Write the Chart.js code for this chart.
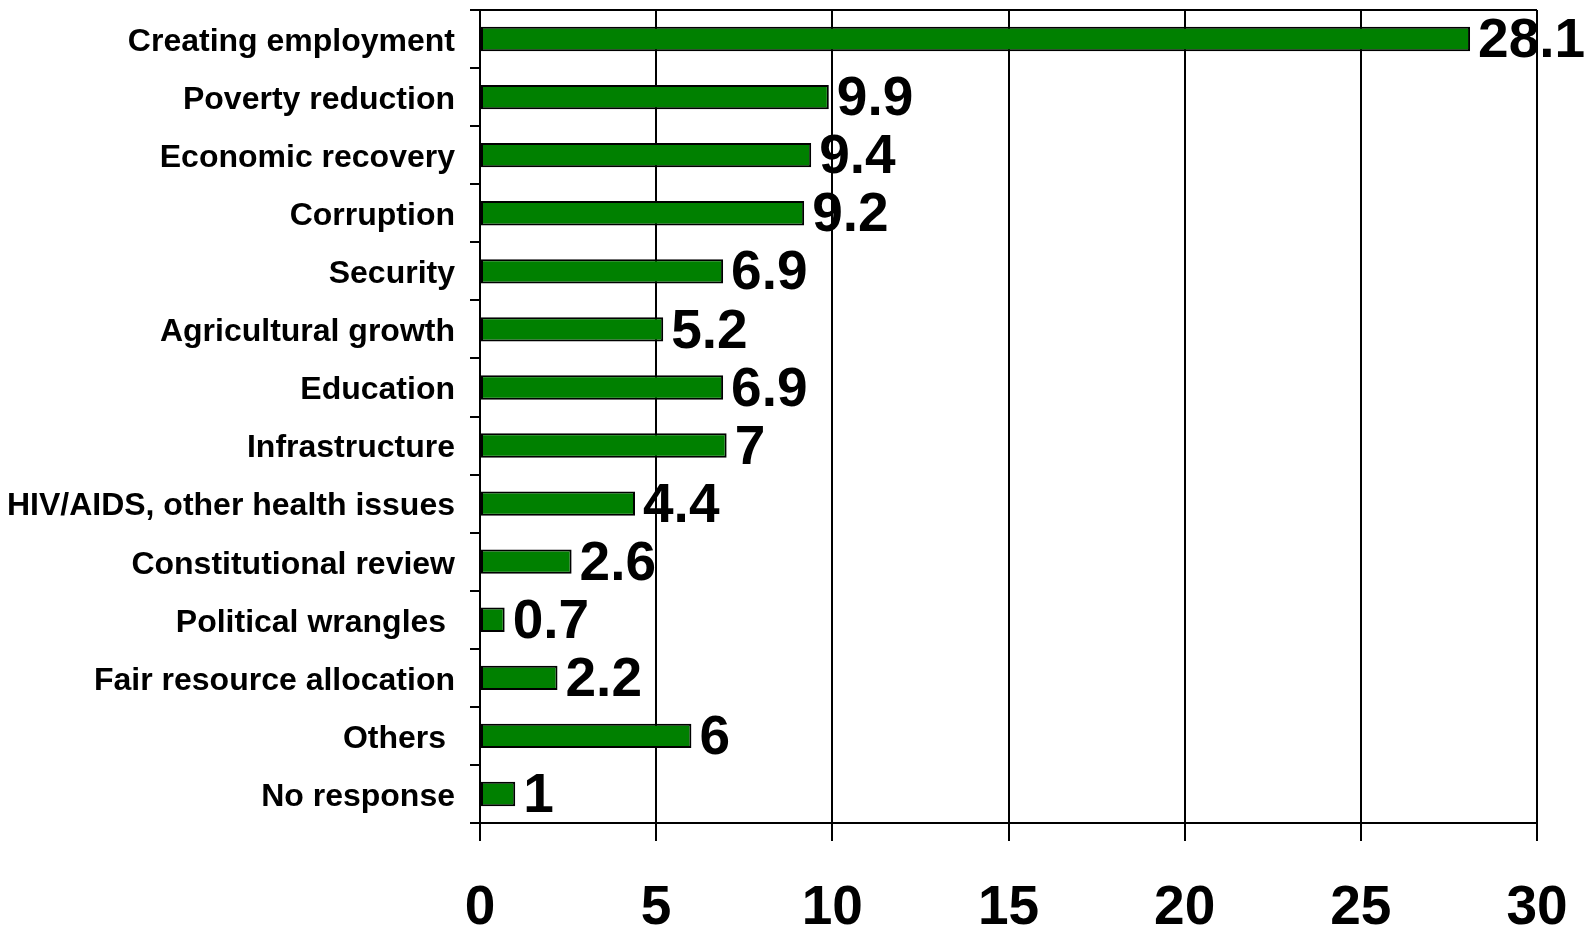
<!DOCTYPE html>
<html>
<head>
<meta charset="utf-8">
<script src="https://cdn.jsdelivr.net/npm/chart.js@4.4.0/dist/chart.umd.min.js"></script>
<style>
  html, body { margin: 0; padding: 0; background: #fff; }
  #wrap { width: 1591px; height: 930px; }
</style>
</head>
<body>
<div id="wrap"><canvas id="issuesChart"></canvas></div>
<script>
const categories = [
    "Creating employment",
    "Poverty reduction",
    "Economic recovery",
    "Corruption",
    "Security",
    "Agricultural growth",
    "Education",
    "Infrastructure",
    "HIV/AIDS, other health issues",
    "Constitutional review",
    "Political wrangles ",
    "Fair resource allocation",
    "Others ",
    "No response"
];
const percentages = [28.1, 9.9, 9.4, 9.2, 6.9, 5.2, 6.9, 7, 4.4, 2.6, 0.7, 2.2, 6, 1];
const xTicks = [0, 5, 10, 15, 20, 25, 30];

const FONT = "'Liberation Sans', Arial, sans-serif";

// value labels drawn at the end of each bar
const valueLabels = {
    id: 'valueLabels',
    afterDatasetsDraw(chart) {
        const ctx = chart.ctx;
        const meta = chart.getDatasetMeta(0);
        ctx.save();
        ctx.font = "bold 55px " + FONT;
        ctx.fillStyle = '#000';
        ctx.textAlign = 'left';
        ctx.textBaseline = 'middle';
        meta.data.forEach((bar, i) => {
            ctx.fillText(String(percentages[i]), bar.x + 8, bar.y + 3);
        });
        ctx.restore();
    }
};

function initChart() {
    const ctx = document.getElementById('issuesChart').getContext('2d');
    Chart.defaults.font.family = FONT;
    Chart.defaults.color = '#000';

    new Chart(ctx, {
        type: 'bar',
        data: {
            labels: categories,
            datasets: [{
                data: percentages,
                backgroundColor: '#008000',
                borderColor: '#000',
                borderWidth: 2,
                borderSkipped: false,
                barPercentage: 0.42,
                categoryPercentage: 1.0
            }]
        },
        options: {
            indexAxis: 'y',
            responsive: true,
            maintainAspectRatio: false,
            animation: false,
            layout: { padding: { top: 10, right: 54, left: 0, bottom: 0 } },
            scales: {
                x: {
                    min: 0,
                    max: 30,
                    afterBuildTicks: scale => { scale.ticks = xTicks.map(v => ({ value: v })); },
                    afterFit: scale => {
                        scale.height = 107;
                        scale.paddingLeft = 0;
                        scale.paddingRight = 0;
                    },
                    border: { display: true, color: '#000', width: 2 },
                    grid: { color: '#000', lineWidth: 2, tickLength: 18, tickColor: '#000', tickWidth: 2 },
                    ticks: {
                        padding: 35,
                        font: { size: 55, weight: 'bold' },
                        color: '#000',
                        maxRotation: 0
                    }
                },
                y: {
                    afterFit: scale => {
                        scale.width = 480;
                        scale.paddingTop = 0;
                        scale.paddingBottom = 0;
                    },
                    border: { display: true, color: '#000', width: 2 },
                    grid: {
                        offset: true,
                        color: c => c.index === 0 ? '#000' : 'rgba(0,0,0,0)',
                        lineWidth: 2,
                        tickLength: 10,
                        tickColor: '#000',
                        tickWidth: 2
                    },
                    ticks: {
                        padding: 15,
                        labelOffset: 3,
                        font: { size: 32, weight: 'bold' },
                        color: '#000',
                        autoSkip: false
                    }
                }
            },
            plugins: {
                legend: { display: false },
                tooltip: { enabled: false }
            }
        },
        plugins: [valueLabels]
    });
}

document.addEventListener('DOMContentLoaded', initChart);
</script>
</body>
</html>
